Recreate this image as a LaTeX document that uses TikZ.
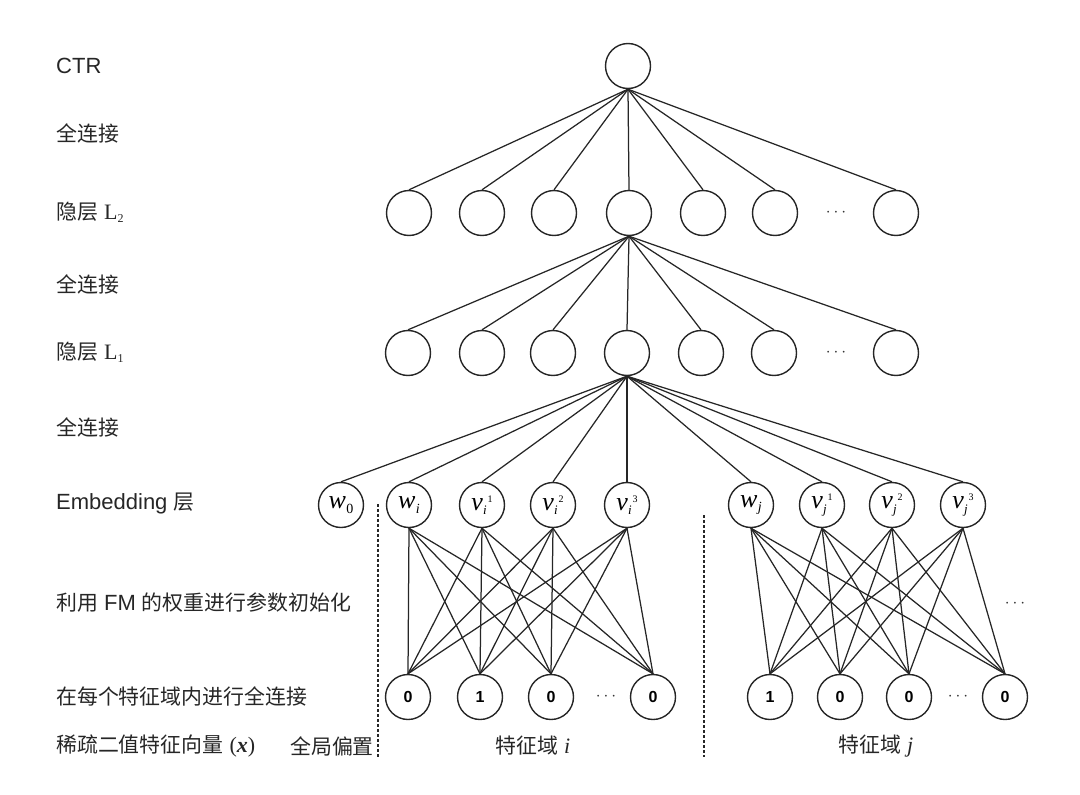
\documentclass[tikz,border=0pt]{standalone}
\usepackage{fontspec}
\setmainfont{Liberation Sans}
\newfontfamily\cjk{Noto Sans CJK SC}[Scale=0.95]
\newfontfamily\tms{Liberation Serif}
\newcommand\lw[1]{{\tms\itshape w}\kern0.5pt\raisebox{-4.5pt}{\fontsize{14}{14}\selectfont\tms #1}}
\newcommand\lwi[1]{{\tms\itshape w}\kern0.5pt\raisebox{-4.5pt}{\fontsize{14}{14}\selectfont\tms\itshape #1}}
\newcommand\lv[2]{{\tms\itshape v}\kern0.3pt\makebox[4.5pt][l]{\raisebox{-4.5pt}{\fontsize{13}{13}\selectfont\tms\itshape #1}}\raisebox{8pt}{\fontsize{10}{10}\selectfont\tms #2}}
\begin{document}
\begin{tikzpicture}[x=1pt,y=-1pt,
  neuron/.style={circle,draw=black!85,line width=1.4pt,minimum size=45pt,inner sep=0pt,
    font=\fontsize{26}{26}\selectfont},
  bit/.style={neuron,font=\fontsize{16}{16}\selectfont\bfseries},
  conn/.style={line width=1.25pt,draw=black!85},
  sep/.style={line width=1.5pt,dash pattern=on 3pt off 2pt,draw=black!85},
  lab/.style={anchor=west,inner sep=0pt,text=black!85,font=\fontsize{22}{26}\selectfont},
  dotsnode/.style={inner sep=0pt,text=black!80,font=\fontsize{18}{18}\selectfont}]
\useasboundingbox (0,0) rectangle (1080,795);

% output
\node[neuron] (ctr) at (628,66) {};

% hidden L2
\foreach \n/\x in {h2a/409,h2b/482,h2c/554,h2d/629,h2e/703,h2f/775,h2h/896}
  \node[neuron] (\n) at (\x,213) {};
\node[dotsnode] (h2dots) at (836,213) {$\cdots$};

% hidden L1
\foreach \n/\x in {h1a/408,h1b/482,h1c/553,h1d/627,h1e/701,h1f/774,h1h/896}
  \node[neuron] (\n) at (\x,353) {};
\node[dotsnode] (h1dots) at (836,353) {$\cdots$};

% embedding
\node[neuron] (w0) at (341,505) {\lw{0}};
\node[neuron] (wi) at (409,505) {\lwi{i}};
\node[neuron] (vi1) at (482,505) {\lv{i}{1}};
\node[neuron] (vi2) at (553,505) {\lv{i}{2}};
\node[neuron] (vi3) at (627,505) {\lv{i}{3}};
\node[neuron] (wj) at (751,505) {\lwi{j}};
\node[neuron] (vj1) at (822,505) {\lv{j}{1}};
\node[neuron] (vj2) at (892,505) {\lv{j}{2}};
\node[neuron] (vj3) at (963,505) {\lv{j}{3}};

% sparse input
\node[bit] (xi1) at (408,697) {0};
\node[bit] (xi2) at (480,697) {1};
\node[bit] (xi3) at (551,697) {0};
\node[dotsnode] (xidots) at (606,697) {$\cdots$};
\node[bit] (xi4) at (653,697) {0};
\node[bit] (xj1) at (770,697) {1};
\node[bit] (xj2) at (840,697) {0};
\node[bit] (xj3) at (909,697) {0};
\node[dotsnode] (xjdots) at (958,697) {$\cdots$};
\node[bit] (xj4) at (1005,697) {0};
\node[dotsnode] (rdots) at (1015,604) {$\cdots$};

% connections
\foreach \n in {h2a,h2b,h2c,h2d,h2e,h2f,h2h}
  \draw[conn] (ctr.south) -- (\n.north);
\foreach \n in {h1a,h1b,h1c,h1d,h1e,h1f,h1h}
  \draw[conn] (h2d.south) -- (\n.north);
\foreach \n in {w0,wi,vi1,vi2,vi3,wj,vj1,vj2,vj3}
  \draw[conn] (h1d.south) -- (\n.north);
\foreach \t in {wi,vi1,vi2,vi3}
  \foreach \b in {xi1,xi2,xi3,xi4}
    \draw[conn] (\t.south) -- (\b.north);
\foreach \t in {wj,vj1,vj2,vj3}
  \foreach \b in {xj1,xj2,xj3,xj4}
    \draw[conn] (\t.south) -- (\b.north);

% separators
\coordinate (s1t) at (378,504);
\coordinate (s1b) at (378,757);
\coordinate (s2t) at (704,515);
\coordinate (s2b) at (704,757);
\draw[sep] (s1t) -- (s1b);
\draw[sep] (s2t) -- (s2b);

% left labels
\node[lab] (lctr) at (56,66) {CTR};
\node[lab] (lfc1) at (56,133) {\cjk 全连接};
\node[lab] (ll2) at (56,212) {{\cjk 隐层} {\tms L\raisebox{-3pt}{\fontsize{12}{12}\selectfont 2}}};
\node[lab] (lfc2) at (56,284) {\cjk 全连接};
\node[lab] (ll1) at (56,352) {{\cjk 隐层} {\tms L\raisebox{-3pt}{\fontsize{12}{12}\selectfont 1}}};
\node[lab] (lfc3) at (56,427) {\cjk 全连接};
\node[lab] (lemb) at (56,504) {Embedding {\cjk 层}};
\node[lab] (lfm) at (56,603) {{\cjk 利用} FM {\cjk 的权重进行参数初始化}};
\node[lab] (lfield) at (56,696) {\cjk 在每个特征域内进行全连接};
\node[lab] (lsparse) at (56,746) {{\cjk 稀疏二值特征向量} {\tms(\textbf{\textit{x}})}};
\node[lab] (lbias) at (290,746) {\cjk 全局偏置};
\node[lab] (lfi) at (495,746) {{\cjk 特征域} {\tms\itshape i}};
\node[lab] (lfj) at (838,746) {{\cjk 特征域} {\tms\itshape j}};
\end{tikzpicture}
\end{document}
